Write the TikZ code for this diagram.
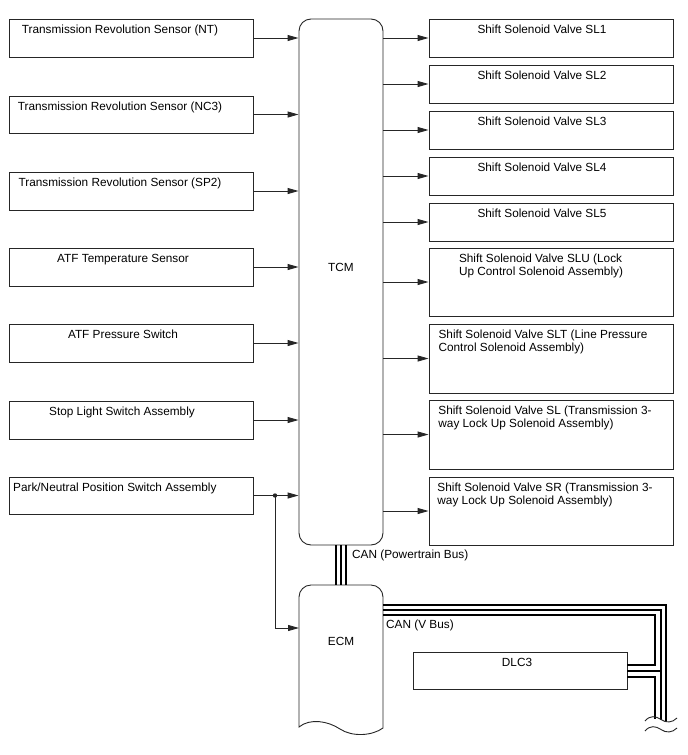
\documentclass[tikz,border=0pt]{standalone}
\usepackage{fontspec}
\setmainfont{Liberation Sans}
\usetikzlibrary{arrows.meta,calc}
\newcommand\mkbox[5]{\node[box, minimum width={(#4-#2)*1pt}, minimum height={(#5-#3)*1pt}] (#1) at ({(#2+#4)/2},{(#3+#5)/2}) {};}
\begin{document}
\begin{tikzpicture}[x=1pt,y=-1pt,
  box/.style={draw=black!85, line width=0.9pt, rectangle, inner sep=0pt},
  lbl/.style={inner sep=0pt, font=\fontsize{11.8}{13}\selectfont, align=left},
  conn/.style={draw=black!85, line width=0.9pt, -{Triangle[length=11pt,width=6pt]}},
  bus/.style={line width=1.6pt, black},
  thin/.style={draw=black!85, line width=0.9pt},
]
\useasboundingbox (0,0) rectangle (688,755);

% TCM
\node[box, rounded corners=12pt, minimum width=84pt, minimum height=526pt] (tcm) at (341,282) {};
\node[lbl] (tcmt) at (341,267) {TCM};

% left boxes
\mkbox{nt}{9.5}{19}{253}{57}
\mkbox{nc}{9.5}{96}{253}{133}
\mkbox{sp}{9.5}{172}{253}{210}
\mkbox{atft}{9.5}{248}{253}{286}
\mkbox{atfp}{9.5}{324}{253}{362}
\mkbox{stop}{9.5}{401}{253}{439}
\mkbox{pn}{9.5}{477}{253}{514}
\node[lbl,anchor=north] at (120,25) {Transmission Revolution Sensor (NT)};
\node[lbl,anchor=north] at (120,102) {Transmission Revolution Sensor (NC3)};
\node[lbl,anchor=north] at (120,178) {Transmission Revolution Sensor (SP2)};
\node[lbl,anchor=north] at (123,254) {ATF Temperature Sensor};
\node[lbl,anchor=north] at (123,330) {ATF Pressure Switch};
\node[lbl,anchor=north] at (122,407) {Stop Light Switch Assembly};
\node[lbl,anchor=north west] at (13,483) {Park/Neutral Position Switch Assembly};

% right boxes
\mkbox{sl1}{429}{19}{673}{57}
\mkbox{sl2}{429}{65}{673}{103}
\mkbox{sl3}{429}{111}{673}{149}
\mkbox{sl4}{429}{157}{673}{195}
\mkbox{sl5}{429}{203}{673}{241}
\mkbox{slu}{429}{248}{673}{316}
\mkbox{slt}{429}{324}{673}{393}
\mkbox{sl}{429}{400}{673}{469}
\mkbox{sr}{429}{477}{673}{545}
\node[lbl,anchor=north] at (542,25) {Shift Solenoid Valve SL1};
\node[lbl,anchor=north] at (542,71) {Shift Solenoid Valve SL2};
\node[lbl,anchor=north] at (542,117) {Shift Solenoid Valve SL3};
\node[lbl,anchor=north] at (542,163) {Shift Solenoid Valve SL4};
\node[lbl,anchor=north] at (542,209) {Shift Solenoid Valve SL5};
\node[lbl,anchor=north] at (541,254) {Shift Solenoid Valve SLU (Lock\\Up Control Solenoid Assembly)};
\node[lbl,anchor=north] at (543,330) {Shift Solenoid Valve SLT (Line Pressure\\Control Solenoid Assembly)};
\node[lbl,anchor=north] at (545,406) {Shift Solenoid Valve SL (Transmission 3-\\way Lock Up Solenoid Assembly)};
\node[lbl,anchor=north] at (545,483) {Shift Solenoid Valve SR (Transmission 3-\\way Lock Up Solenoid Assembly)};

% inputs
\foreach \b in {nt,nc,sp,atft,atfp,stop,pn}
  \draw[conn] (\b.east) -- (\b.east -| tcm.west);
% outputs
\foreach \b in {sl1,sl2,sl3,sl4,sl5,slu,slt,sl,sr}
  \draw[conn] (\b.west -| tcm.east) -- (\b.west);

% ECM shape
\draw[thin] (299,727) -- (299,597) .. controls (299,590.4) and (304.4,585) .. (311,585)
  -- (371,585) .. controls (377.6,585) and (383,590.4) .. (383,597) -- (383,728)
  .. controls (372,736) and (352,737) .. (340,729)
  .. controls (328,721) and (310,718) .. (299,727) -- cycle;
\node[lbl] (ecm) at (341,641) {ECM};
\coordinate (ecmL) at (299,628);

% junction
\coordinate (j) at (275,495.5);
\fill[black!85] (j) circle (2.2pt);
\draw[conn] (j) |- (ecmL);

% CAN powertrain bus
\foreach \dx in {-5,0,5}
  \draw[bus] ($(tcm.south)+(\dx,0)$) -- ($(tcm.south)+(\dx,40)$);
\node[lbl,anchor=base west] (canpt) at (352,558) {CAN (Powertrain Bus)};

% DLC3
\mkbox{dlc}{413}{652}{627}{689}
\node[lbl,anchor=north] at (517,658) {DLC3};

% CAN V bus
\draw[bus] (383,605) -- (666,605) -- (666,721.5);
\draw[bus] (383,610) -- (661,610) -- (661,720);
\draw[bus] (383,615) -- (655,615) -- (655,665) -- (dlc.east |- 0,665);
\draw[bus] (dlc.east |- 0,671) -- (661,671);
\draw[bus] (dlc.east |- 0,677) -- (655,677) -- (655,718.5);
\node[lbl,anchor=base west] (canv) at (386,628) {CAN (V Bus)};

% break marks
\draw[thin] (645,721) .. controls (650,715) and (656,716) .. (661,719.5) .. controls (666,723) and (672,723) .. (677,718);
\draw[thin] (645,731) .. controls (650,725) and (656,726) .. (661,729.5) .. controls (666,733) and (672,733) .. (677,728);
\end{tikzpicture}
\end{document}
